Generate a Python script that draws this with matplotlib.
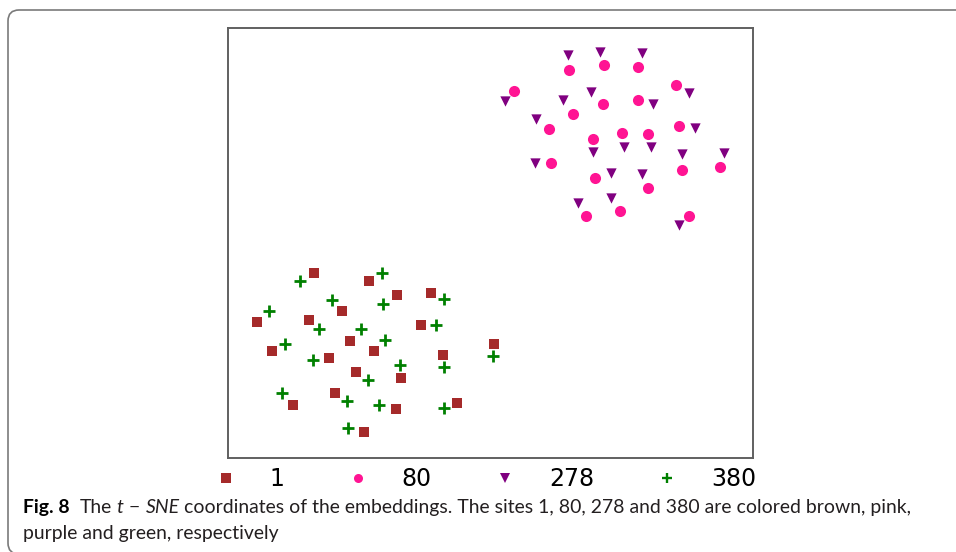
import matplotlib
matplotlib.use("Agg")
import matplotlib.pyplot as plt
from matplotlib.patches import FancyBboxPatch
from matplotlib.lines import Line2D
from matplotlib.transforms import IdentityTransform

# ---- data: t-SNE coordinates ----
sites = ["1", "80", "278", "380"]

x_site1 = [314, 369, 397, 430.7, 342, 257.3, 309.3, 420.7, 350.3, 271.7, 329.3,
           374.3, 443.3, 494, 356, 401.3, 335, 292.7, 395.7, 457.3, 364.3]
y_site1 = [185.3, 177, 163, 164.7, 147.3, 136.3, 137.7, 133.3, 117, 107, 99.7,
           107, 102.7, 113.7, 85.7, 80.3, 64.7, 53.3, 49, 54.7, 26.3]

x_site80 = [569, 604.3, 638, 514, 676, 602.7, 638, 573.3, 549.3, 593, 622.3,
            648, 678.7, 550.7, 595.3, 682.3, 719.7, 648, 586, 620, 688.7]
y_site80 = [388, 392.7, 390.7, 367, 372.7, 354.3, 358.3, 344.3, 329, 319.3, 324.7,
            324.3, 331.7, 295, 280, 288.3, 291, 270, 242, 247.3, 242.3]

x_site278 = [567.7, 600, 642.3, 505, 688.7, 563, 591.3, 653.3, 536.3, 694.7, 593,
             623.7, 650.7, 681.7, 724.3, 534.7, 611.3, 642.3, 578.3, 611.3, 678.7]
y_site278 = [403, 406.3, 405.3, 357.3, 365.3, 357.7, 365.7, 354, 338.7, 330.3, 306.3,
             310.7, 310.7, 303.7, 305, 295, 285, 284, 254.7, 260.3, 233.3]

x_site380 = [300, 382.3, 331.7, 383.3, 444.3, 269.3, 318.7, 361, 435.7, 285, 384.7,
             313.3, 400, 444.3, 493.3, 368, 281.7, 346.7, 379.3, 444.3, 348]
y_site380 = [177.3, 184.7, 158, 154, 159.3, 146.7, 128.7, 128.7, 132.7, 114.3, 118,
             97.7, 93.3, 91, 101.7, 78, 65.3, 56.7, 53, 50, 29.7]

caption_bold = "Fig. 8"
caption_line2 = "purple and green, respectively"

# ---- figure ----
W, H = 956, 552
fig = plt.figure(figsize=(W / 100, H / 100), dpi=100)
fig.patch.set_facecolor("white")

# outer rounded frame (pixel coords)
frame = FancyBboxPatch((8, -2), 975 - 8, (H - 10) - (-2),
                       boxstyle="round,pad=0,rounding_size=11",
                       transform=IdentityTransform(), facecolor="none",
                       edgecolor="#7a7a7a", linewidth=1.2)
fig.add_artist(frame)

ax_l, ax_r, ax_t, ax_b = 227.5, 752.5, 28, 458
ax = fig.add_axes([ax_l / W, 1 - ax_b / H, (ax_r - ax_l) / W, (ax_b - ax_t) / H])
ax.set_xlim(ax_l, ax_r)
ax.set_ylim(0, ax_b - ax_t)
ax.set_xticks([])
ax.set_yticks([])
for sp in ax.spines.values():
    sp.set_color("#606060")
    sp.set_linewidth(1.4)

styles = {
    "1":   dict(marker="s", color="#A52A2A", s=55),
    "80":  dict(marker="o", color="#FF1493", s=64),
    "278": dict(marker="v", color="#800080", s=55),
    "380": dict(marker="+", color="#008000", s=85),
}
data = {"1": (x_site1, y_site1), "80": (x_site80, y_site80),
        "278": (x_site278, y_site278), "380": (x_site380, y_site380)}

for name in sites:
    st = styles[name]
    xs, ys = data[name]
    if st["marker"] == "+":
        ax.scatter(xs, ys, marker="+", c=st["color"], s=st["s"], linewidths=2.0)
    else:
        ax.scatter(xs, ys, marker=st["marker"], c=st["color"], s=st["s"],
                   linewidths=0)

# legend
handles = []
for name in sites:
    st = styles[name]
    if st["marker"] == "+":
        h = Line2D([], [], linestyle="none", marker="+", color=st["color"],
                   markersize=7, markeredgewidth=1.7)
    else:
        h = Line2D([], [], linestyle="none", marker=st["marker"], color=st["color"],
                   markersize=6.5, markeredgewidth=0)
    handles.append(h)
leg = fig.legend(handles, sites, loc="center", bbox_to_anchor=(485 / W, 1 - 479 / H),
                 ncol=4, frameon=False, handlelength=1.0,
                 handletextpad=1.36, columnspacing=2.6, borderpad=0,
                 prop={"family": "DejaVu Sans", "size": 17})

# caption, line 1 built from pieces
renderer = fig.canvas.get_renderer()
cap_font = "Lato"
color_txt = "#231f20"


def place_line(fs):
    pieces = [
        (caption_bold, "bold", "normal", "#000000", 0.0),
        ("The", "normal", "normal", color_txt, 0.55),
        ("t", "normal", "italic", color_txt, 0.2),
        ("\u2212", "normal", "normal", color_txt, 0.3),
        ("SNE", "normal", "italic", color_txt, 0.3),
        ("coordinates of the embeddings. The sites 1, 80, 278 and 380 are colored brown, pink,",
         "normal", "normal", color_txt, 0.22),
    ]
    x = 22.7
    y = H - 513.3
    made = []
    for txt, wt, sty, col, gap in pieces:
        x += gap * fs * 100 / 72
        t = fig.text(x, y, txt, transform=IdentityTransform(), fontsize=fs,
                     family=cap_font, fontweight=wt, fontstyle=sty, color=col,
                     va="baseline", ha="left")
        bb = t.get_window_extent(renderer)
        x = bb.x1
        made.append(t)
    return x, made


f0 = 13.0
end, made = place_line(f0)
for t in made:
    t.remove()
fs = f0 * (905.7 - 22.7) / (end - 22.7)
end, made = place_line(fs)

fig.text(22.7, H - 538.5, caption_line2, transform=IdentityTransform(), fontsize=fs,
         family=cap_font, color=color_txt, va="baseline", ha="left")

fig.savefig("out.png", dpi=100)
